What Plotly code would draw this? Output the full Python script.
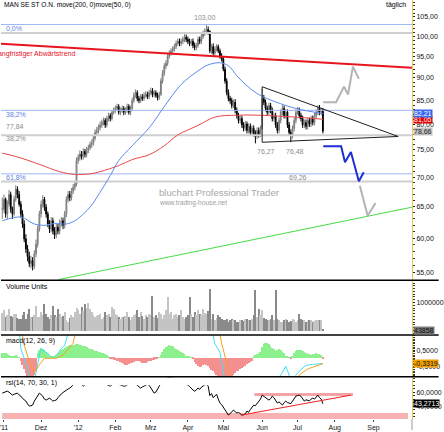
import numpy as np
import pandas as pd
import plotly.graph_objects as go
from plotly.subplots import make_subplots

# ---------------- data ----------------
dates = pd.bdate_range("2011-10-31", "2012-07-23")          # trading days shown
future_dates = pd.bdate_range("2011-10-31", "2012-09-30")   # axis extends into the future

close = [64.6, 66.2, 63.8, 65.4, 67.0, 64.6, 63.8, 66.2, 67.9, 67.0,
         65.4, 63.8, 62.2, 59.9, 58.4, 57.3, 56.3, 56.7, 55.9, 57.7,
         59.1, 61.4, 63.8, 65.4, 66.2, 64.9, 63.8, 62.2, 61.4, 62.7,
         61.1, 60.5, 61.7, 61.1, 62.3, 62.7, 62.0, 63.8, 66.2, 67.0,
         66.5, 67.6, 68.2, 68.8, 73.0, 73.6, 74.2, 73.8, 74.7, 74.2,
         75.0, 75.4, 76.0, 76.3, 77.3, 78.4, 78.8, 79.4, 79.9, 80.4,
         80.8, 79.9, 81.2, 81.8, 81.2, 82.5, 82.9, 83.3, 83.7, 82.5,
         82.9, 83.3, 82.5, 82.9, 83.7, 82.5, 83.3, 85.0, 86.1, 86.7,
         85.4, 85.0, 85.8, 85.4, 86.1, 86.3, 85.8, 86.7, 87.1, 86.3,
         86.7, 86.1, 85.6, 86.3, 89.3, 91.1, 92.7, 93.4, 95.1, 95.8,
         96.3, 96.8, 97.4, 98.2, 98.7, 98.2, 98.7, 99.2, 99.7, 99.2,
         98.7, 98.2, 98.7, 97.7, 97.2, 97.7, 99.2, 98.7, 99.9, 100.7,
         101.2, 101.7, 101.2, 96.3, 97.4, 95.8, 96.8, 97.4, 96.3, 95.1,
         94.4, 92.0, 89.3, 86.7, 85.4, 85.0, 83.9, 84.6, 82.9, 81.8,
         80.8, 81.2, 79.9, 79.2, 80.1, 78.8, 79.6, 78.4, 79.2, 78.2,
         77.6, 78.8, 78.0, 79.2, 85.4, 84.6, 83.3, 82.5, 83.9, 82.9,
         81.2, 81.8, 79.9, 78.8, 80.8, 82.5, 83.3, 81.8, 82.5, 79.9,
         78.4, 77.8, 79.2, 80.8, 82.5, 82.9, 81.8, 81.2, 79.9, 80.4,
         79.6, 80.8, 80.1, 81.2, 80.4, 81.8, 82.5, 83.3, 82.5, 82.9,
         78.66]

high = [66.5, 67.0, 66.5, 66.0, 67.8, 67.5, 65.0, 66.8, 68.6, 68.4,
        67.6, 65.9, 64.4, 62.8, 60.6, 59.0, 58.0, 57.4, 57.2, 58.2,
        59.8, 62.0, 64.3, 66.0, 66.9, 66.6, 65.4, 64.2, 62.8, 63.3,
        63.2, 61.7, 62.3, 62.2, 62.9, 63.3, 63.2, 64.3, 66.7, 67.6,
        67.6, 68.1, 68.8, 69.4, 73.6, 74.2, 74.9, 74.8, 75.3, 75.2,
        75.6, 76.0, 76.6, 77.0, 77.9, 79.0, 79.5, 80.0, 80.6, 81.0,
        81.4, 81.3, 81.7, 82.4, 82.3, 83.0, 83.5, 83.9, 84.3, 84.2,
        83.5, 83.9, 83.8, 83.5, 84.3, 84.2, 83.9, 85.6, 86.8, 87.4,
        87.2, 86.0, 86.4, 86.4, 86.8, 87.0, 86.9, 87.3, 87.8, 87.7,
        87.3, 87.2, 86.7, 86.9, 89.9, 91.8, 93.4, 94.1, 95.8, 96.5,
        97.0, 97.5, 98.1, 98.9, 99.4, 99.4, 99.4, 99.9, 100.5, 100.4,
        99.9, 99.4, 99.3, 99.4, 98.4, 98.3, 99.9, 99.9, 100.6, 101.4,
        102.0, 103.0, 102.5, 101.5, 98.0, 98.2, 97.5, 98.0, 97.9, 96.9,
        95.8, 95.0, 92.6, 89.9, 87.4, 86.0, 85.6, 85.2, 85.3, 83.5,
        82.4, 81.8, 81.8, 80.5, 80.7, 80.6, 80.2, 80.2, 79.8, 79.8,
        78.8, 79.4, 79.4, 79.8, 87.5, 86.2, 85.2, 83.9, 84.5, 84.5,
        83.5, 82.4, 82.4, 80.5, 81.4, 83.1, 84.0, 83.9, 83.1, 83.1,
        80.5, 79.0, 79.8, 81.4, 83.1, 83.6, 83.5, 82.4, 81.8, 81.0,
        81.0, 81.4, 81.4, 81.8, 81.8, 82.4, 83.1, 84.0, 84.0, 83.5,
        83.4]

low = [63.0, 64.0, 63.2, 63.0, 65.0, 64.0, 63.0, 63.4, 65.8, 66.4,
       65.0, 63.2, 61.6, 59.4, 57.8, 56.6, 55.8, 55.6, 55.3, 55.5,
       57.2, 58.6, 61.0, 63.2, 64.8, 64.3, 63.2, 61.7, 60.8, 60.9,
       60.6, 59.9, 60.0, 60.6, 60.6, 61.8, 61.4, 61.5, 63.3, 65.7,
       65.9, 66.0, 67.1, 67.7, 68.4, 72.4, 73.0, 73.2, 73.2, 73.6,
       73.6, 74.4, 74.9, 75.4, 75.8, 76.8, 77.8, 78.2, 78.8, 79.3,
       79.8, 79.3, 79.4, 80.6, 80.6, 80.8, 82.0, 82.3, 82.8, 82.0,
       81.9, 82.4, 81.9, 82.0, 82.4, 82.0, 81.9, 83.0, 84.5, 85.6,
       84.8, 84.4, 84.5, 84.9, 84.9, 85.6, 85.3, 85.2, 86.1, 85.7,
       85.7, 85.6, 85.0, 85.1, 86.0, 88.7, 90.4, 92.0, 92.8, 94.5,
       95.2, 95.7, 96.2, 96.8, 97.6, 97.5, 97.5, 98.0, 98.5, 98.5,
       98.0, 97.5, 97.6, 97.0, 96.5, 96.5, 97.1, 98.0, 98.0, 99.3,
       100.0, 100.5, 100.4, 95.8, 95.6, 95.3, 95.2, 96.2, 95.8, 94.5,
       93.8, 91.5, 88.7, 86.1, 84.8, 84.3, 83.3, 83.4, 82.3, 81.2,
       80.2, 80.2, 79.3, 78.6, 78.7, 78.2, 78.2, 77.8, 77.9, 77.6,
       76.27, 77.1, 77.4, 77.5, 79.0, 84.0, 82.7, 81.9, 81.9, 82.3,
       80.6, 80.6, 79.3, 78.2, 78.2, 80.2, 81.9, 81.2, 81.2, 79.3,
       77.8, 76.48, 77.2, 78.6, 80.2, 82.0, 81.2, 80.6, 79.3, 79.3,
       79.0, 79.0, 79.5, 79.5, 79.8, 79.8, 81.2, 81.9, 81.9, 81.9,
       78.2]

volume_thousands = [650, 730, 480, 550, 790, 520, 490, 600, 610, 450,
                    430, 420, 550, 670, 430, 600, 790, 500, 490, 560,
                    900, 480, 490, 670, 550, 960, 610, 500, 430, 560,
                    900, 550, 480, 790, 600, 490, 520, 670, 400, 310,
                    450, 550, 500, 670, 820, 730, 600, 850, 700, 960,
                    800, 1000, 790, 670, 560, 490, 520, 550, 600, 430,
                    500, 670, 550, 600, 480, 850, 790, 600, 550, 480,
                    430, 500, 490, 520, 670, 500, 370, 480, 550, 600,
                    730, 500, 670, 520, 430, 560, 490, 600, 550, 1260,
                    500, 550, 450, 670, 600, 430, 550, 750, 1200, 600,
                    670, 430, 560, 610, 500, 550, 730, 480, 430, 500,
                    550, 1200, 600, 490, 670, 550, 730, 600, 550, 790,
                    650, 610, 700, 1500, 430, 600, 370, 450, 550, 480,
                    430, 400, 370, 420, 310, 400, 430, 380, 370, 330,
                    310, 400, 370, 350, 420, 430, 380, 370, 420, 550,
                    1460, 480, 790, 550, 730, 450, 430, 400, 370, 420,
                    550, 400, 1460, 430, 380, 310, 330, 370, 430, 400,
                    310, 350, 430, 380, 310, 400, 610, 420, 370, 380,
                    310, 350, 370, 400, 310, 350, 380, 370, 400, 370,
                    43.858]

macd_hist = [0.30, 0.32, 0.30, 0.25, 0.20, 0.12, 0.10, 0.15, 0.18, 0.12,
             0.05, -0.20, -0.45, -0.70, -0.95, -1.15, -1.30, -1.35, -1.25, -1.10,
             -0.80, 0.30, 0.50, 0.60, 0.58, 0.52, 0.40, 0.25, 0.12, 0.15,
             0.10, 0.15, 0.20, 0.30, 0.40, 0.48, 0.55, 0.60, 0.68, 0.72,
             0.78, 0.80, 0.82, 0.82, 0.85, 0.85, 0.83, 0.80, 0.76, 0.72,
             0.68, 0.62, 0.58, 0.54, 0.50, 0.46, 0.42, 0.40, 0.36, 0.32,
             0.30, 0.26, 0.20, 0.12, -0.05, -0.10, -0.12, -0.15, -0.18, -0.22,
             -0.28, -0.35, -0.40, -0.42, -0.45, -0.40, -0.35, -0.30, -0.25, -0.20,
             -0.18, -0.22, -0.28, -0.30, -0.32, -0.30, -0.25, -0.20, -0.18, -0.15,
             -0.12, -0.10, -0.08, 0.05, 0.20, 0.40, 0.55, 0.68, 0.75, 0.78,
             0.76, 0.72, 0.65, 0.58, 0.50, 0.42, 0.35, 0.28, 0.22, 0.15,
             0.10, 0.06, 0.03, -0.10, -0.25, -0.40, -0.52, -0.60, -0.55, -0.45,
             -0.40, -0.42, -0.50, -0.65, -0.75, -0.85, -0.95, -1.05, -1.15, -1.20,
             -1.25, -1.30, -1.30, -1.28, -1.25, -1.20, -1.15, -1.05, -0.95, -0.85,
             -0.80, -0.70, -0.62, -0.55, -0.48, -0.40, -0.35, -0.28, -0.20, 0.10,
             0.20, 0.25, 0.30, 0.35, 0.70, 0.90, 0.95, 0.95, 0.90, 0.75,
             0.60, 0.55, 0.45, 0.50, 0.55, 0.50, 0.40, 0.30, 0.15, 0.08,
             0.04, -0.05, 0.10, 0.30, 0.45, 0.52, 0.50, 0.48, 0.42, 0.35,
             0.30, 0.25, 0.22, 0.20, 0.22, 0.25, 0.28, 0.25, 0.22, 0.18,
             -0.05]

macd_line_idx = [0, 10, 11, 14, 17, 19, 22, 23, 27, 30, 33, 35, 37, 40, 60, 100, 124, 126, 129, 132, 150,
                 163, 165, 168, 170, 171, 173, 174, 177, 180, 184, 186, 190]
macd_line_val = [3.0, 2.0, 0.6, -0.3, -1.5, -1.5, 0.2, 0.6, 0.3, 0.0, 0.3, 0.62, 0.8, 2.0, 4.0, 4.0, 2.0, 0.9, 0.4, -1.5, -4.0,
                 -2.0, -1.06, -0.5, -1.06, -1.5, -1.5, -1.06, -0.7, -0.44, -0.38, -0.36, -0.33]
signal_idx = [0, 11, 13, 16, 19, 22, 25, 32, 36, 42, 44, 60, 110, 128, 130, 135, 140, 160, 174, 176, 181, 185, 189, 190]
signal_val = [3.0, 2.0, 0.83, -0.2, -0.9, -0.4, 0.0, 0.0, 0.2, 0.94, 2.0, 4.0, 4.0, 2.0, 0.94, -1.1, -2.0, -3.0, -1.5,
              -1.04, -0.67, -0.5, -0.37, -0.3319]

rsi = [58.6, 59.5, 60.5, 61.4, 60.0, 58.0, 55.7, 57.0, 58.0, 58.6,
       56.0, 54.3, 51.0, 49.0, 47.1, 43.0, 40.0, 40.5, 41.4, 47.0,
       51.4, 56.0, 58.6, 56.5, 54.3, 50.0, 48.6, 50.0, 51.4, 49.5,
       47.1, 48.0, 48.6, 52.0, 55.7, 57.5, 59.5, 61.4, 63.0, 64.5,
       65.7, 68.0, 70.0, 72.0, 75.0, 74.0, 73.0, 71.0, 68.6, 71.0,
       73.0, 74.0, 75.0, 76.0, 77.0, 78.0, 77.0, 76.0, 75.0, 74.0,
       73.0, 72.0, 70.5, 69.0, 68.6, 70.5, 72.0, 73.0, 72.0, 71.0,
       70.5, 69.5, 68.6, 68.8, 70.5, 72.0, 73.0, 75.0, 74.0, 72.0,
       70.0, 67.0, 65.7, 67.5, 69.0, 70.5, 71.0, 70.0, 66.0, 62.0,
       58.6, 60.0, 64.0, 69.0, 74.0, 77.0, 79.0, 80.0, 80.5, 81.0,
       81.0, 80.0, 79.0, 78.0, 77.0, 76.0, 75.0, 74.0, 73.0, 71.5,
       70.0, 68.0, 65.0, 63.0, 61.4, 63.0, 66.0, 64.0, 67.0, 69.0,
       70.5, 71.0, 69.0, 55.0, 58.0, 52.0, 55.0, 57.0, 50.0, 44.3,
       42.0, 38.0, 34.3, 30.5, 27.1, 29.0, 31.5, 34.3, 32.0, 30.0,
       31.0, 29.0, 27.1, 27.5, 29.0, 32.9, 31.0, 35.0, 38.5, 41.4,
       40.5, 44.0, 47.1, 50.0, 55.7, 54.0, 51.4, 50.0, 48.6, 50.5,
       54.3, 52.0, 47.0, 44.3, 46.0, 43.0, 41.4, 45.0, 47.1, 45.0,
       44.5, 43.5, 47.0, 51.5, 54.3, 55.0, 55.7, 54.0, 51.0, 47.1,
       49.0, 48.6, 47.5, 50.0, 51.4, 50.0, 53.5, 55.7, 52.0, 50.0,
       43.2713]

ma200_idx = [0, 11, 23, 34, 43, 52, 58, 69, 77, 87, 96, 104, 116, 126, 139, 151, 163, 174, 190]
ma200_val = [74.4, 73.5, 72.2, 71.0, 70.5, 70.6, 71.0, 72.1, 73.2, 74.1, 75.8, 77.9, 79.8, 81.5, 81.9, 81.9, 81.7, 81.5, 81.05]
ma50_idx = [0, 11, 19, 26, 31, 38, 43, 46, 52, 58, 64, 69, 77, 87, 97, 106, 116, 122, 129, 134, 139, 145, 151, 157, 165, 174, 190]
ma50_val = [62.7, 63.3, 62.2, 62.0, 62.3, 62.2, 62.7, 63.3, 64.9, 67.4, 70.3, 73.0, 75.8, 79.3, 84.2, 88.5, 91.6, 93.0, 93.5,
            92.8, 90.5, 88.2, 86.5, 85.4, 84.3, 83.3, 82.21]

# analyst drawings (trading-day index, price)
fib_blue_levels = [103.00, 82.90, 70.60]
fib_blue_labels = ["0,0%", "38,2%", "61,8%"]
fib_grey_levels = [100.8, 77.84, 69.26]
downtrend_x, downtrend_y = [-0.75, 242.8], [98.1, 92.35]
support_x, support_y = [33.1, 242.8], [54.03, 64.9]
tri_x = [154.0, 234.6, 154.0, 154.0]
tri_y = [88.0, 77.6, 76.47, 88.0]
up_path_x = [190.2, 197.8, 202.5, 204.9, 207.8, 211.3]
up_path_y = [84.6, 84.6, 88.0, 86.3, 92.6, 89.8]
down_path_x = [190.2, 200.8, 203.1, 206.6, 211.3, 214.2]
down_path_y = [75.7, 75.7, 72.7, 74.6, 69.3, 70.9]
down_path2_x = [211.9, 216.5, 221.2]
down_path2_y = [68.5, 63.5, 65.6]
rsi_trend_x, rsi_trend_y = [141.8, 206.6], [27.1, 55.7]
rsi_zone_x, rsi_zone_y = [149.4, 207.8], [54.3, 58.6]

price_ticks = [55, 60, 65, 70, 75, 80, 85, 90, 95, 100, 105]

assert len(dates) == len(close) == len(high) == len(low) == len(volume_thousands) == len(macd_hist) == len(rsi), \
    (len(dates), len(close), len(high), len(low), len(volume_thousands), len(macd_hist), len(rsi))

# ---------------- figure ----------------
W, H = 444, 432
ML, MR, MT, MB = 0, 27, 0, 11
PW, PH = W - ML - MR, H - MT - MB
XR = [-0.75, 242.8]
FONT = "Liberation Sans, Arial, sans-serif"


def de(v, d=2):
    return f"{v:.{d}f}".replace(".", ",")


def py(ypx):
    return 1 - ypx / PH


def px(xpx):
    return xpx / PW


idx = np.arange(len(close))
opn = [close[0]] + close[:-1]
hi = [max(h, o, c) for h, o, c in zip(high, opn, close)]
lo = [min(l, o, c) for l, o, c in zip(low, opn, close)]
volume = [v * 1000 for v in volume_thousands]
vol_col = ['#c4c4c4' if c >= o else '#8a8a8a' for o, c in zip(opn, close)]
hist_col = ['#8cf08c' if v >= 0 else '#f49090' for v in macd_hist]

fig = make_subplots(rows=4, cols=1, shared_xaxes=True, vertical_spacing=0.0)

# main panel lines below candles
for lv in fib_grey_levels:
    fig.add_trace(go.Scatter(x=XR, y=[lv, lv], mode='lines', line=dict(color='#cfcfcf', width=2),
                             hoverinfo='skip', showlegend=False), row=1, col=1)
for lv in fib_blue_levels:
    fig.add_trace(go.Scatter(x=XR, y=[lv, lv], mode='lines', line=dict(color='#9db8f4', width=1),
                             hoverinfo='skip', showlegend=False), row=1, col=1)
fig.add_trace(go.Scatter(x=downtrend_x, y=downtrend_y, mode='lines', line=dict(color='#e8141e', width=2),
                         hoverinfo='skip', showlegend=False), row=1, col=1)
fig.add_trace(go.Scatter(x=support_x, y=support_y, mode='lines', line=dict(color='#46dc46', width=1),
                         hoverinfo='skip', showlegend=False), row=1, col=1)
fig.add_trace(go.Scatter(x=ma200_idx, y=ma200_val, mode='lines', line=dict(color='#e84848', width=1, shape='spline'),
                         hoverinfo='skip', showlegend=False), row=1, col=1)
fig.add_trace(go.Scatter(x=ma50_idx, y=ma50_val, mode='lines', line=dict(color='#5a8cf0', width=1, shape='spline'),
                         hoverinfo='skip', showlegend=False), row=1, col=1)

fig.add_trace(go.Candlestick(x=idx, open=opn, high=hi, low=lo, close=close,
                             increasing=dict(line=dict(color='#7c7c7c', width=1), fillcolor='#b4b4b4'),
                             decreasing=dict(line=dict(color='#000000', width=1), fillcolor='#000000'),
                             whiskerwidth=0, hoverinfo='skip', showlegend=False), row=1, col=1)

fig.add_trace(go.Scatter(x=tri_x, y=tri_y, mode='lines', line=dict(color='#202020', width=1),
                         hoverinfo='skip', showlegend=False), row=1, col=1)
fig.add_trace(go.Scatter(x=up_path_x, y=up_path_y, mode='lines', line=dict(color='#b4b4b4', width=2),
                         hoverinfo='skip', showlegend=False), row=1, col=1)
fig.add_trace(go.Scatter(x=down_path2_x, y=down_path2_y, mode='lines', line=dict(color='#b4b4b4', width=2),
                         hoverinfo='skip', showlegend=False), row=1, col=1)
fig.add_trace(go.Scatter(x=down_path_x, y=down_path_y, mode='lines', line=dict(color='#1f2fd0', width=2),
                         hoverinfo='skip', showlegend=False), row=1, col=1)

# volume
fig.add_trace(go.Bar(x=idx, y=volume, marker=dict(color=vol_col, line=dict(width=0)), width=0.6,
                     hoverinfo='skip', showlegend=False), row=2, col=1)
# macd
fig.add_trace(go.Bar(x=idx, y=macd_hist, marker=dict(color=hist_col, line=dict(width=0)), width=0.75,
                     hoverinfo='skip', showlegend=False), row=3, col=1)
fig.add_trace(go.Scatter(x=macd_line_idx, y=macd_line_val, mode='lines', line=dict(color='#40e0f4', width=1),
                         hoverinfo='skip', showlegend=False), row=3, col=1)
fig.add_trace(go.Scatter(x=signal_idx, y=signal_val, mode='lines', line=dict(color='#f4a020', width=1),
                         hoverinfo='skip', showlegend=False), row=3, col=1)
# rsi
fig.add_trace(go.Scatter(x=idx, y=rsi, mode='lines', line=dict(color='#000000', width=1),
                         hoverinfo='skip', showlegend=False), row=4, col=1)
fig.add_trace(go.Scatter(x=rsi_trend_x, y=rsi_trend_y, mode='lines', line=dict(color='#f02020', width=1),
                         hoverinfo='skip', showlegend=False), row=4, col=1)

# ---------------- axes ----------------
ax_common = dict(showgrid=False, zeroline=False, range=XR, showline=False)
fig.update_layout(
    xaxis=dict(**ax_common, showticklabels=False, rangeslider=dict(visible=False)),
    xaxis2=dict(**ax_common, showticklabels=False),
    xaxis3=dict(**ax_common, showticklabels=False),
)

mstarts, mlabels = [], []
mon = ["Jan", "Feb", "Mrz", "Apr", "Mai", "Jun", "Jul", "Aug", "Sep", "Okt", "Nov", "Dez"]
for i in range(1, len(future_dates)):
    d = future_dates[i]
    if d.month != future_dates[i - 1].month:
        mstarts.append(i)
        if d.month == 1 or len(mlabels) == 0:
            mlabels.append("'" + str(d.year)[2:])
        else:
            mlabels.append(mon[d.month - 1])

fig.update_layout(xaxis4=dict(**ax_common, tickmode='array', tickvals=mstarts, ticktext=mlabels,
                              tickfont=dict(size=7, color='#111', family=FONT), ticks='outside', ticklen=2,
                              tickcolor='#444', ticklabeloverflow='allow'))

yax_common = dict(side='right', showgrid=False, zeroline=False, showline=True, linecolor='#ecc850', linewidth=1,
                  ticks='outside', ticklen=2, tickcolor='#222', tickfont=dict(size=7, color='#111', family=FONT))
dom_main = [py(281), 1.0]
dom_vol = [py(336), py(282)]
dom_macd = [py(378), py(337)]
dom_rsi = [0.0, py(379)]

fig.update_layout(
    yaxis=dict(**yax_common, domain=dom_main, type='log', range=[np.log10(54.03), np.log10(109.58)],
               tickmode='array', tickvals=price_ticks, ticktext=[de(t) for t in price_ticks],
               minor=dict(ticks='outside', ticklen=2, tickcolor='#333', tickmode='array',
                          tickvals=list(range(54, 110)))),
    yaxis2=dict(**yax_common, domain=dom_vol, range=[-142857, 1785714], tickmode='array',
                tickvals=[0, 1000000], ticktext=['0', '1000000'],
                minor=dict(ticks='outside', ticklen=2, tickcolor='#333', dtick=100000)),
    yaxis3=dict(**yax_common, domain=dom_macd, range=[-1.125, 1.4375], tickmode='array',
                tickvals=[0.5, -0.5], ticktext=['0,5000', '-0,5000'],
                minor=dict(ticks='outside', ticklen=2, tickcolor='#333', dtick=0.1)),
    yaxis4=dict(**yax_common, domain=dom_rsi, range=[21.43, 81.43], tickmode='array',
                tickvals=[40, 60], ticktext=['40,0000', '60,0000'],
                minor=dict(ticks='outside', ticklen=2, tickcolor='#333', dtick=5)),
)

# ---------------- shapes ----------------
shapes = []
shapes.append(dict(type='rect', xref='paper', yref='y4', x0=0.003, x1=0.99, y0=21.43, y1=30,
                   fillcolor='#f8b2b2', line=dict(width=0), layer='below'))
shapes.append(dict(type='rect', xref='x4', yref='y4', x0=rsi_zone_x[0], x1=rsi_zone_x[1],
                   y0=rsi_zone_y[0], y1=rsi_zone_y[1], fillcolor='#f4a4a4', line=dict(width=0), layer='below'))
shapes.append(dict(type='rect', xref='paper', yref='y4', x0=0, x1=1, y0=70, y1=81.43,
                   fillcolor='white', line=dict(width=0), layer='above'))
for ypx in [281.5, 336.5, 378.5]:
    shapes.append(dict(type='line', xref='paper', yref='paper', x0=0, x1=W / PW, y0=py(ypx), y1=py(ypx),
                       line=dict(color='#000', width=1.5)))
shapes.append(dict(type='line', xref='paper', yref='paper', x0=1, x1=1, y0=py(421), y1=py(432),
                   line=dict(color='#999', width=1)))
fig.update_layout(shapes=shapes)

# ---------------- annotations ----------------
ann = []
f7 = dict(size=7, family=FONT)


def txt(x, y, t, color='#000', size=7, xanchor='left', yanchor='middle', **kw):
    ann.append(dict(x=x, y=y, xref='paper', yref='paper', text=t, showarrow=False, xanchor=xanchor,
                    yanchor=yanchor, font=dict(size=size, color=color, family=FONT), **kw))


txt(px(1), py(5), "MAN SE ST O.N. move(200, 0)move(50, 0)", size=6.6)
txt(px(413), py(5), "täglich", xanchor='right')
txt(px(77), py(54), "Langfristiger Abwärtstrend", color='#e8141e', xanchor='right')
txt(px(3), py(29), fib_blue_labels[0], color='#5b7fe0')
txt(px(3), py(115.5), fib_blue_labels[1], color='#5b7fe0')
txt(px(3), py(127.5), de(fib_grey_levels[1]), color='#8c8c8c')
txt(px(3), py(139.5), "38,2%", color='#8c8c8c')
txt(px(3), py(178.5), fib_blue_labels[2], color='#5b7fe0')
txt(px(313), py(178), de(fib_grey_levels[2]), color='#8c8c8c', xanchor='right')
txt(px(158), py(193), "bluchart Professional Trader", color='#a8a8a8', size=9.6)
txt(px(158), py(203.5), "www.trading-house.net", color='#a0a0a0', size=6.6)
txt(px(3), py(287.5), "Volume Units")
txt(px(3), py(342.5), "macd(12, 26, 9)")
txt(px(3), py(384.5), "rsi(14, 70, 30, 1)")

i_hi = int(np.argmax(high))
ann.append(dict(x=i_hi, y=np.log10(high[i_hi]), xref='x', yref='y', text=de(high[i_hi]), showarrow=False,
                yanchor='bottom', yshift=1, xanchor='center', xshift=-1, font=dict(color='#8c8c8c', **f7)))
i_lo1 = 150
ann.append(dict(x=i_lo1, y=np.log10(low[i_lo1]), xref='x', yref='y', text=de(low[i_lo1]), showarrow=False,
                yanchor='top', yshift=-3, xanchor='left', xshift=0, font=dict(color='#8c8c8c', **f7)))
i_lo2 = 171
ann.append(dict(x=i_lo2, y=np.log10(low[i_lo2]), xref='x', yref='y', text=de(low[i_lo2]), showarrow=False,
                yanchor='top', yshift=-4, xanchor='center', xshift=4, font=dict(color='#8c8c8c', **f7)))


def box(yref, yval, text, bg, fg):
    ann.append(dict(x=1, y=yval, xref='paper', yref=yref, text=text, showarrow=False, xanchor='left',
                    yanchor='middle', xshift=1, bgcolor=bg, borderpad=0,
                    font=dict(size=7, color=fg, family=FONT)))


box('y', np.log10(ma200_val[-1]), de(ma200_val[-1]), '#e00000', '#ffffff')
box('y', np.log10(ma50_val[-1]), de(ma50_val[-1]), '#3a68f0', '#ffffff')
box('y', np.log10(close[-1]), de(close[-1]), '#c4c4c4', '#202020')
box('y2', 0, f"{volume[-1]:.0f}", '#7a7a7a', '#101010')
box('y3', signal_val[-1], de(signal_val[-1], 4), '#f0a000', '#101010')
box('y4', rsi[-1], de(rsi[-1], 4), '#000000', '#ffffff')

fig.update_layout(annotations=ann)

fig.update_layout(width=W, height=H, margin=dict(l=ML, r=MR, t=MT, b=MB, pad=0),
                  paper_bgcolor='white', plot_bgcolor='white', showlegend=False, bargap=0,
                  font=dict(family=FONT, size=7), hovermode=False)

fig.write_html("out.html", config=dict(displayModeBar=False))
